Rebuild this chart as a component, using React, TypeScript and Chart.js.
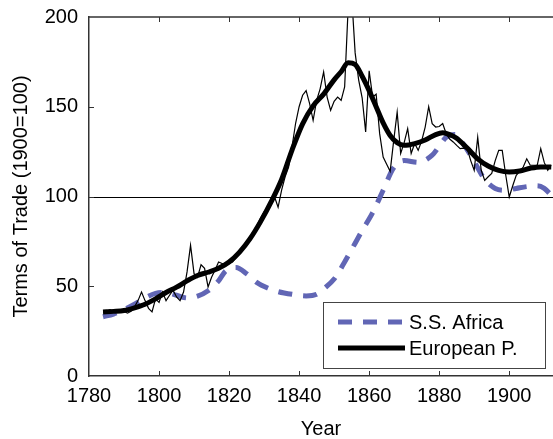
import React, { useEffect, useRef } from "react";
import { Chart, registerables } from "chart.js";
Chart.register(...registerables);

const FONT = "'Liberation Sans', Arial, sans-serif";
const BLUE = "#6166B5";

const xTicks = [1780, 1800, 1820, 1840, 1860, 1880, 1900];
const yTicks = [0, 50, 100, 150, 200];
const xMin = 1780;
const xMax = 1912.5;
const yMin = 0;
const yMax = 200;
const refValue = 100;
const xTitle = "Year";
const yTitle = "Terms of Trade (1900=100)";
const africaLabel = "S.S. Africa";
const europeLabel = "European P.";

// Annual European periphery terms of trade (thin line)
const europeAnnualYears = [
  1784, 1785, 1786, 1787, 1788, 1789, 1790, 1791, 1792, 1793, 1794, 1795, 1796, 1797, 1798, 1799,
  1800, 1801, 1802, 1803, 1804, 1805, 1806, 1807, 1808, 1809, 1810, 1811, 1812, 1813, 1814, 1815,
  1816, 1817, 1818, 1819, 1820, 1821, 1822, 1823, 1824, 1825, 1826, 1827, 1828, 1829, 1830, 1831,
  1832, 1833, 1834, 1835, 1836, 1837, 1838, 1839, 1840, 1841, 1842, 1843, 1844, 1845, 1846, 1847,
  1848, 1849, 1850, 1851, 1852, 1853, 1854, 1855, 1856, 1857, 1858, 1859, 1860, 1861, 1862, 1863,
  1864, 1865, 1866, 1867, 1868, 1869, 1870, 1871, 1872, 1873, 1874, 1875, 1876, 1877, 1878, 1879,
  1880, 1881, 1882, 1883, 1884, 1885, 1886, 1887, 1888, 1889, 1890, 1891, 1892, 1893, 1894, 1895,
  1896, 1897, 1898, 1899, 1900, 1901, 1902, 1903, 1904, 1905, 1906, 1907, 1908, 1909, 1910, 1911,
  1912,
];
const europeAnnualValues = [
  35.5, 36, 37, 36, 35.5, 37, 36, 35, 36, 38.5, 42, 46.8, 42, 37.7, 35.7, 43,
  41, 46.8, 42, 45, 47.8, 44, 42, 46.8, 58, 72.8, 57, 55, 62, 60, 49.6, 55,
  59, 63.5, 62.7, 61.7, 62.5, 63.5, 66, 69, 72, 74.7, 77, 79.3, 84, 88, 91.4, 94,
  96, 99.7, 94, 103.5, 111, 116.4, 128, 140.8, 150, 156.4, 159, 151.7, 142.4, 153.6, 160, 169.4,
  155.4, 148, 153, 155.4, 153.6, 161, 205, 212, 180, 165, 155, 136, 170, 155.4, 157, 135,
  122, 118, 114, 131, 147, 124, 130, 137.8, 124, 129.5, 125.7, 131, 138.7, 150, 140.6, 138.7,
  139, 140.6, 135, 132, 130.4, 128.5, 126.7, 127, 126.7, 120, 114.6, 133, 114.6, 109, 111, 112.8,
  120, 125.7, 125.7, 112, 99.7, 106, 111.8, 114, 116.4, 121, 117.4, 117.4, 117.4, 126.7, 119, 114.6,
  117.4,
];

// Smoothed European periphery trend (thick black)
const europeSmoothYears = [
  1784, 1787, 1790, 1793, 1796, 1799, 1802, 1805, 1808, 1811, 1814, 1817, 1820, 1823, 1826, 1829,
  1832, 1835, 1838, 1841, 1844, 1847, 1850, 1852, 1854, 1856, 1858, 1860, 1862, 1864, 1866, 1868,
  1870, 1873, 1876, 1879, 1881, 1883, 1885, 1888, 1891, 1894, 1897, 1900, 1903, 1906, 1909, 1912,
];
const europeSmoothValues = [
  35.7, 36, 36.5, 38, 40, 43, 46.5, 49.5, 53, 56, 57.8, 60, 63.5, 69, 76.5, 86,
  97, 109.5, 126, 140.5, 150.5, 157, 165, 169.5, 174.5, 173.5, 167, 159, 150, 141, 134, 130,
  128.5, 129.5, 131.5, 134.5, 135.5, 134.5, 132.5, 127, 121, 117, 114.5, 113.6, 114.2, 115.7, 116.5, 116.4,
];

// Sub-Saharan Africa (dashed blue)
const africaYears = [
  1784, 1787, 1790, 1793, 1796, 1799, 1802, 1805, 1808, 1811, 1814, 1817, 1819, 1822, 1825, 1828,
  1831, 1834, 1838, 1842, 1845, 1847, 1850, 1853, 1856, 1858, 1861, 1864, 1867, 1870, 1874, 1878,
  1880, 1882, 1884.5, 1887, 1890, 1893, 1896, 1899, 1902, 1905, 1908, 1910, 1912,
];
const africaValues = [
  33, 34.5, 37, 40, 43.5, 46, 46.5, 45, 43.5, 44.5, 47.5, 53, 58.5, 60.5, 57, 52,
  49, 47, 45.5, 44.6, 45.5, 48.5, 54, 63.5, 74, 81, 91, 103.5, 116, 120, 119, 123,
  128, 133, 134.5, 129, 119.5, 109.5, 104.5, 103.5, 104.5, 105.5, 106, 104.5, 100.7,
];

const toPoints = (xs: number[], ys: number[]) => xs.map((x, i) => ({ x, y: ys[i] }));

const decorPlugin = {
  id: "decor",
  beforeDatasetsDraw(chart: any) {
    const { ctx, chartArea, scales } = chart;
    const py = Math.round(scales.y.getPixelForValue(refValue)) + 0.5;
    ctx.save();
    ctx.strokeStyle = "#000";
    ctx.lineWidth = 1;
    ctx.beginPath();
    ctx.moveTo(chartArea.left, py);
    ctx.lineTo(chartArea.right, py);
    ctx.stroke();
    ctx.restore();
  },
  afterDraw(chart: any) {
    const { ctx, chartArea, scales } = chart;
    const { left, right, top, bottom } = chartArea;
    ctx.save();
    // top border
    ctx.strokeStyle = "#333";
    ctx.lineWidth = 1.5;
    ctx.beginPath();
    ctx.moveTo(left, top);
    ctx.lineTo(right, top);
    ctx.stroke();
    // inward ticks
    ctx.lineWidth = 1;
    ctx.beginPath();
    xTicks.forEach((v) => {
      if (v === xMin) return;
      const px = Math.round(scales.x.getPixelForValue(v)) + 0.5;
      ctx.moveTo(px, bottom);
      ctx.lineTo(px, bottom - 5);
      ctx.moveTo(px, top);
      ctx.lineTo(px, top + 5);
    });
    yTicks.forEach((v) => {
      if (v === yMin || v === yMax) return;
      const py = Math.round(scales.y.getPixelForValue(v)) + 0.5;
      ctx.moveTo(left, py);
      ctx.lineTo(left + 5, py);
    });
    ctx.stroke();

    // legend
    const ds = chart.data.datasets
      .filter((d: any) => d.legendIndex !== undefined)
      .sort((a: any, b: any) => a.legendIndex - b.legendIndex);
    const w = 222;
    const h = 66;
    const bx = right - 8 - w;
    const by = bottom - 8 - h;
    ctx.fillStyle = "#fff";
    ctx.fillRect(bx, by, w, h);
    ctx.strokeStyle = "#444";
    ctx.lineWidth = 1;
    ctx.strokeRect(Math.round(bx) + 0.5, Math.round(by) + 0.5, w, h);
    ds.forEach((d: any, i: number) => {
      const ly = by + 20 + i * 26;
      ctx.beginPath();
      ctx.strokeStyle = d.borderColor;
      ctx.lineWidth = d.borderWidth;
      ctx.setLineDash(d.borderDash || []);
      ctx.moveTo(bx + 15, ly);
      ctx.lineTo(bx + 82, ly);
      ctx.stroke();
      ctx.setLineDash([]);
      ctx.fillStyle = "#000";
      ctx.font = `20px ${FONT}`;
      ctx.textBaseline = "middle";
      ctx.textAlign = "left";
      ctx.fillText(d.label, bx + 86, ly + 1);
    });
    ctx.restore();
  },
};

export default function App() {
  const ref = useRef<HTMLCanvasElement>(null);
  useEffect(() => {
    document.body.style.margin = "0";
    const canvas = ref.current!;
    const chart = new Chart(canvas, {
      type: "line",
      data: {
        datasets: [
          {
            label: europeLabel,
            data: toPoints(europeSmoothYears, europeSmoothValues),
            borderColor: "#000",
            borderWidth: 5,
            pointRadius: 0,
            cubicInterpolationMode: "monotone",
            fill: false,
            order: 1,
            clip: 0,
            legendIndex: 1,
          } as any,
          {
            label: "European P. (annual)",
            data: toPoints(europeAnnualYears, europeAnnualValues),
            borderColor: "#000",
            borderWidth: 1.2,
            pointRadius: 0,
            tension: 0,
            fill: false,
            order: 2,
            clip: 0,
          } as any,
          {
            label: africaLabel,
            data: toPoints(africaYears, africaValues),
            borderColor: BLUE,
            borderWidth: 5,
            borderDash: [14, 11],
            pointRadius: 0,
            cubicInterpolationMode: "monotone",
            fill: false,
            order: 3,
            clip: 0,
            legendIndex: 0,
          } as any,
        ],
      },
      options: {
        animation: false,
        responsive: false,
        devicePixelRatio: 1,
        layout: { padding: { top: 17, right: 0, left: 0, bottom: 0 } },
        plugins: { legend: { display: false }, tooltip: { enabled: false } },
        scales: {
          x: {
            type: "linear",
            position: "bottom",
            min: xMin,
            max: xMax,
            afterBuildTicks: (s: any) => {
              s.ticks = xTicks.map((v) => ({ value: v }));
            },
            afterFit: (s: any) => {
              s.height = 63;
              s.paddingLeft = 0;
              s.paddingRight = 0;
            },
            ticks: {
              font: { family: FONT, size: 20 },
              color: "#000",
              padding: 8,
              maxRotation: 0,
              autoSkip: false,
              callback: (v: any) => String(v),
            },
            grid: { drawOnChartArea: false, drawTicks: false },
            border: { display: true, color: "#333", width: 1.5 },
            title: {
              display: true,
              text: xTitle,
              color: "#000",
              font: { family: FONT, size: 20, lineHeight: 1 },
              padding: { top: 0, bottom: 0 },
            },
          },
          y: {
            type: "linear",
            min: yMin,
            max: yMax,
            afterBuildTicks: (s: any) => {
              s.ticks = yTicks.map((v) => ({ value: v }));
            },
            afterFit: (s: any) => {
              s.width = 89;
              s.paddingTop = 0;
              s.paddingBottom = 0;
            },
            ticks: {
              font: { family: FONT, size: 20 },
              color: "#000",
              padding: 11,
              callback: (v: any) => String(v),
            },
            grid: { drawOnChartArea: false, drawTicks: false },
            border: { display: true, color: "#333", width: 1.5 },
            title: {
              display: true,
              text: yTitle,
              color: "#000",
              font: { family: FONT, size: 20, lineHeight: 1.2 },
              padding: { top: 9, bottom: 0 },
            },
          },
        },
      },
      plugins: [decorPlugin],
    });
    return () => chart.destroy();
  }, []);
  return (
    <div style={{ position: "fixed", left: 0, top: 0, width: 553, height: 439, background: "#fff" }}>
      <canvas ref={ref} width={553} height={439} style={{ width: 553, height: 439 }} />
    </div>
  );
}
